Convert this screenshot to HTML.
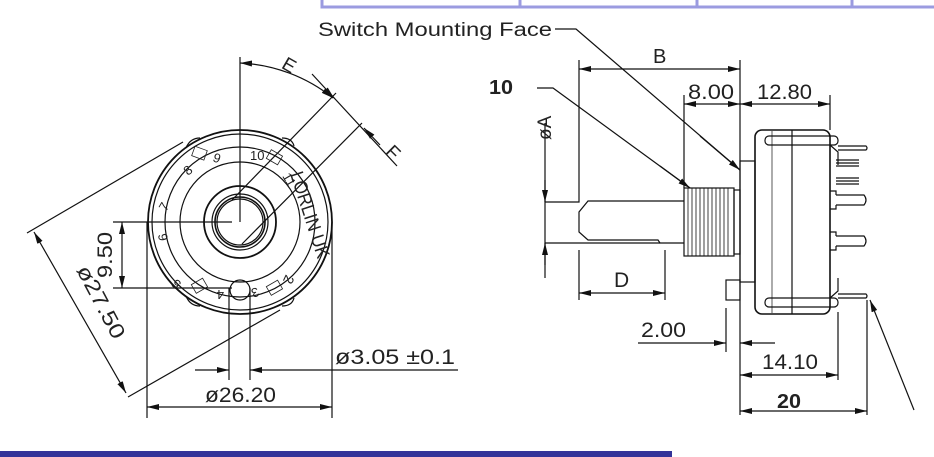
<!DOCTYPE html>
<html><head><meta charset="utf-8"><style>
html,body{margin:0;padding:0;background:#fff;}
svg{display:block;}
text{font-family:"Liberation Sans",sans-serif;fill:#222;}
</style></head><body>
<svg width="934" height="457" viewBox="0 0 934 457" xmlns="http://www.w3.org/2000/svg">
<defs>
<marker id="a" viewBox="0 0 12 6" refX="12" refY="3" markerWidth="12" markerHeight="6" orient="auto-start-reverse" markerUnits="userSpaceOnUse"><path d="M0,0L12,3L0,6z" fill="#111"/></marker>
</defs>
<rect x="322" y="-2" width="620" height="9" fill="#fff" stroke="#9b9be0" stroke-width="3"/>
<line x1="520" y1="0" x2="520" y2="7" stroke="#9b9be0" stroke-width="3"/>
<line x1="697" y1="0" x2="697" y2="7" stroke="#9b9be0" stroke-width="3"/>
<line x1="852" y1="0" x2="852" y2="7" stroke="#9b9be0" stroke-width="3"/>
<rect x="0" y="451" width="672" height="6" fill="#333399"/>

<g stroke="#111" stroke-width="1.2" fill="none">
<circle cx="240" cy="222" r="92" stroke-width="1.8"/>
<circle cx="240" cy="222" r="88"/>
<circle cx="240" cy="222" r="75"/>
<circle cx="240" cy="222" r="60"/>
<circle cx="240" cy="222" r="36" stroke-width="1.8"/>
<circle cx="240" cy="222" r="28"/>
<circle cx="240" cy="222" r="25" stroke-width="1.6"/>
<circle cx="240" cy="222" r="23"/>
<circle cx="240" cy="290" r="10"/>
<path d="M186,148 q4,-10 14,-10 M186,296 q4,10 14,10 M282,138 q10,0 12,8 M282,306 q10,0 12,-8"/>
<line x1="240" y1="222" x2="240" y2="57"/>
<path d="M240,63 A160,160 0 0 1 333,98" marker-start="url(#a)" marker-end="url(#a)"/>
<line x1="232" y1="200" x2="336" y2="93"/>
<line x1="242" y1="244" x2="362" y2="123"/>
<line x1="312" y1="74" x2="397" y2="166"/>
<line x1="330" y1="94" x2="334" y2="98" marker-end="url(#a)"/>
<line x1="380" y1="145" x2="364" y2="128" marker-end="url(#a)"/>
<line x1="27" y1="233" x2="183" y2="142"/>
<line x1="128" y1="397" x2="280" y2="310"/>
<line x1="34" y1="232" x2="126" y2="393" marker-start="url(#a)" marker-end="url(#a)"/>
<line x1="113" y1="222" x2="232" y2="222"/>
<line x1="113" y1="288" x2="232" y2="288"/>
<line x1="122" y1="222" x2="122" y2="288" marker-start="url(#a)" marker-end="url(#a)"/>
<line x1="147" y1="222" x2="147" y2="418"/>
<line x1="332" y1="222" x2="332" y2="418"/>
<line x1="147" y1="407" x2="332" y2="407" marker-start="url(#a)" marker-end="url(#a)"/>
<line x1="229" y1="288" x2="229" y2="380"/>
<line x1="250" y1="288" x2="250" y2="380"/>
<line x1="195" y1="370" x2="229" y2="370" marker-end="url(#a)"/>
<line x1="458" y1="370" x2="250" y2="370" marker-end="url(#a)"/>

<polyline points="555,29 576,29 740,170" />
<line x1="700" y1="136" x2="740" y2="170" marker-end="url(#a)"/>
<polyline points="537,88 553,88 690,188"/>
<line x1="660" y1="166" x2="690" y2="188" marker-end="url(#a)"/>
<polyline points="579,60 579,202 545,202"/>
<line x1="545" y1="243" x2="660" y2="243"/>
<line x1="579" y1="69" x2="740" y2="69" marker-start="url(#a)" marker-end="url(#a)"/>
<line x1="740" y1="60" x2="740" y2="415"/>
<line x1="684" y1="95" x2="684" y2="188"/>
<line x1="830" y1="95" x2="830" y2="130"/>
<line x1="684" y1="104" x2="740" y2="104" marker-start="url(#a)" marker-end="url(#a)"/>
<line x1="740" y1="104" x2="830" y2="104" marker-start="url(#a)" marker-end="url(#a)"/>
<line x1="545" y1="123" x2="545" y2="278"/>
<line x1="545" y1="180" x2="545" y2="202" marker-end="url(#a)"/>
<line x1="545" y1="265" x2="545" y2="243" marker-end="url(#a)"/>
<path d="M684,201 L588,201 L579,212 L579,232 L588,240 L658,240 L660,243 L684,243"/>
<rect x="684" y="188" width="50" height="68"/>
<path d="M688,188 v68 M692,188 v68 M696,188 v68 M700,188 v68 M704,188 v68 M708,188 v68 M712,188 v68 M716,188 v68 M720,188 v68 M724,188 v68 M728,188 v68" stroke-width="0.8"/>
<rect x="734" y="190" width="6" height="64"/>
<rect x="740" y="161" width="15" height="121"/>
<rect x="726" y="280" width="14" height="20"/>
<rect x="755" y="130" width="75" height="184" rx="7" stroke-width="1.6"/>
<line x1="792" y1="130" x2="792" y2="314"/>
<line x1="772" y1="131" x2="772" y2="313" stroke-width="0.7"/>
<rect x="765" y="136" width="73" height="9" rx="4"/>
<rect x="765" y="298" width="73" height="9" rx="4"/>
<path d="M830,145 L838,152 L838,165 M830,298 L838,291 L838,278"/>
<path d="M838,146 h28 q2,2 0,4 h-28"/>
<path d="M836,160 h23 M836,163 h23 M836,166 h23 M836,178 h23 M836,181 h23 M836,184 h23"/>
<path d="M836,195 h28 q4,5 0,10 h-28 M836,236 h28 q4,5 0,10 h-28 M836,195 v-4 h-6 M836,205 v4 h-6 M836,236 v-4 h-6 M836,246 v4 h-6"/>
<path d="M838,294 h28 q2,2 0,4 h-28"/>
<line x1="579" y1="250" x2="579" y2="300"/>
<line x1="665" y1="250" x2="665" y2="300"/>
<line x1="579" y1="293" x2="665" y2="293" marker-start="url(#a)" marker-end="url(#a)"/>
<line x1="726" y1="308" x2="726" y2="352"/>
<line x1="638" y1="343" x2="726" y2="343" marker-end="url(#a)"/>
<line x1="775" y1="343" x2="740" y2="343" marker-end="url(#a)"/>
<line x1="838" y1="312" x2="838" y2="380"/>
<line x1="867" y1="300" x2="867" y2="415"/>
<line x1="740" y1="375" x2="838" y2="375" marker-start="url(#a)" marker-end="url(#a)"/>
<line x1="740" y1="411" x2="867" y2="411" marker-start="url(#a)" marker-end="url(#a)"/>
<line x1="914" y1="410" x2="870" y2="300" marker-end="url(#a)"/>
</g>

<g font-size="13" fill="#222">
<text x="212" y="161" transform="rotate(20 212 161)">9</text>
<text x="250" y="160">10</text>
<text x="282" y="176" transform="rotate(60 282 176)">11</text>
<text x="188" y="176" transform="rotate(-40 188 176)">8</text>
<text x="166" y="212" transform="rotate(-60 166 212)">7</text>
<text x="168" y="240" transform="rotate(-100 168 240)">6</text>
<text x="182" y="283" transform="rotate(-140 182 283)">5</text>
<text x="224" y="290" transform="rotate(180 224 290)">4</text>
<text x="257" y="287" transform="rotate(160 257 287)">3</text>
</g>
<text x="290" y="174" font-size="19" transform="rotate(72 290 174)" textLength="90" lengthAdjust="spacingAndGlyphs">LORLIN UK</text>
<text x="286" y="274" font-size="14" transform="rotate(115 286 274)">2</text>
<g stroke="#222" stroke-width="0.8" fill="none">
<rect x="193" y="148" width="13" height="10" transform="rotate(20 199 153)"/>
<rect x="268" y="152" width="13" height="10" transform="rotate(30 274 157)"/>
<rect x="193" y="281" width="13" height="10" transform="rotate(-30 199 286)"/>
<rect x="268" y="283" width="13" height="10" transform="rotate(-30 274 288)"/>
</g>
<text x="283" y="72" font-size="19" transform="rotate(30 290 65)">E</text>
<text x="388" y="160" font-size="19" transform="rotate(45 395 152)">F</text>
<text x="112" y="278" font-size="21" transform="rotate(-90 112 278)" textLength="46" lengthAdjust="spacingAndGlyphs">9.50</text>
<text x="76" y="270" font-size="21" transform="rotate(62 76 270)" textLength="80" lengthAdjust="spacingAndGlyphs">ø27.50</text>
<text x="205" y="402" font-size="21" textLength="71" lengthAdjust="spacingAndGlyphs">ø26.20</text>
<text x="335" y="364" font-size="21" textLength="120" lengthAdjust="spacingAndGlyphs">ø3.05  ±0.1</text>

<text x="318" y="36" font-size="19" textLength="234" lengthAdjust="spacingAndGlyphs">Switch Mounting Face</text>
<text x="489" y="94" font-size="20" font-weight="bold" fill="#000" textLength="24" lengthAdjust="spacingAndGlyphs">10</text>
<text x="653" y="63" font-size="20">B</text>
<text x="688" y="99" font-size="21" textLength="46" lengthAdjust="spacingAndGlyphs">8.00</text>
<text x="757" y="99" font-size="21" textLength="55" lengthAdjust="spacingAndGlyphs">12.80</text>
<text x="541" y="150" font-size="19" transform="rotate(-90 541 140)">øA</text>
<text x="614" y="287" font-size="21">D</text>
<text x="641" y="337" font-size="21" textLength="45" lengthAdjust="spacingAndGlyphs">2.00</text>
<text x="762" y="369" font-size="21" textLength="56" lengthAdjust="spacingAndGlyphs">14.10</text>
<text x="777" y="408" font-size="20" font-weight="bold" fill="#000" textLength="24" lengthAdjust="spacingAndGlyphs">20</text>
</svg>
</body></html>
